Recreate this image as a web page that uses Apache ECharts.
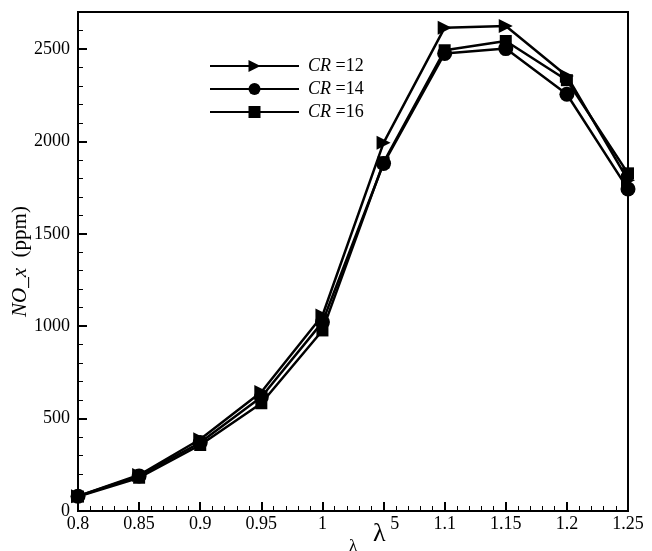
<!DOCTYPE html>
<html>
<head>
<meta charset="utf-8">
<script src="https://cdn.jsdelivr.net/npm/echarts@6/dist/echarts.min.js"></script>
<style>
  html, body { margin: 0; padding: 0; background: #fff; }
  #chart { width: 652px; height: 551px; }
</style>
</head>
<body>
<div id="chart"></div>
<script>
// lambda values on the x axis
const lambdaValues = [0.8, 0.85, 0.9, 0.95, 1.0, 1.05, 1.1, 1.15, 1.2, 1.25];
// NOx (ppm) per compression ratio
const nox12 = [80, 195, 388, 644, 1058, 1992, 2615, 2624, 2354, 1790];
const nox14 = [80, 190, 370, 617, 1022, 1880, 2476, 2502, 2255, 1742];
const nox16 = [78, 180, 357, 583, 977, 1886, 2493, 2543, 2331, 1827];
const seriesNames = ['CR =12', 'CR =14', 'CR =16'];

const font = 'Liberation Serif';
const triRight = 'path://M0,0 L10,5 L0,10 Z';

function pairs(ys) {
    return lambdaValues.map((x, i) => [x, ys[i]]);
}

function lineSeries(name, ys, symbol, size) {
    return {
        name: name,
        type: 'line',
        xAxisIndex: 0,
        yAxisIndex: 0,
        data: pairs(ys),
        symbol: symbol,
        symbolSize: size,
        showAllSymbol: true,
        lineStyle: { color: '#000', width: 2.5 },
        itemStyle: { color: '#000' },
        emphasis: { disabled: true },
        animation: false
    };
}

let option = {
    backgroundColor: '#fff',
    animation: false,
    grid: {
        left: 78, right: 24, top: 12, bottom: 40,
        show: true, borderColor: '#000', borderWidth: 2,
        containLabel: false,
        outerBoundsMode: 'none'
    },
    legend: {
        orient: 'vertical',
        left: 204,
        top: 52,
        itemWidth: 89,
        itemHeight: 15,
        itemGap: 5,
        data: seriesNames,
        formatter: name => '{i|CR} ' + name.slice(3),
        textStyle: {
            fontFamily: font, fontSize: 18, color: '#000',
            padding: [0, 0, 0, 4],
            rich: { i: { fontFamily: font, fontSize: 18, fontStyle: 'italic', color: '#000' } }
        }
    },
    xAxis: [
        {
            type: 'value', position: 'bottom',
            min: 0.8, max: 1.25, interval: 0.05,
            name: 'λ', nameLocation: 'middle', nameGap: 27,
            nameTextStyle: { fontFamily: font, fontSize: 17, color: '#000' },
            axisLine: { lineStyle: { color: '#000', width: 2 } },
            axisTick: { inside: true, length: 9, lineStyle: { color: '#000', width: 2 } },
            axisLabel: {
                fontFamily: font, fontSize: 18, color: '#000', margin: 4,
                formatter: v => String(+v.toFixed(2))
            },
            splitLine: { show: false }
        },
        {
            type: 'value', position: 'bottom',
            min: 0.8, max: 1.25, interval: 0.01,
            axisLine: { show: false },
            axisTick: { inside: true, length: 5, lineStyle: { color: '#000', width: 1 } },
            axisLabel: { show: false },
            splitLine: { show: false }
        }
    ],
    yAxis: [
        {
            type: 'value', position: 'left',
            min: 0, max: 2700, interval: 500,
            name: '{i|NO_x}  (ppm)', nameLocation: 'middle', nameGap: 47,
            nameMoveOverlap: false,
            nameTextStyle: {
                fontFamily: font, fontSize: 21, color: '#000',
                rich: { i: { fontFamily: font, fontSize: 21, fontStyle: 'italic', color: '#000' } }
            },
            axisLine: { lineStyle: { color: '#000', width: 2 } },
            axisTick: { inside: true, length: 9, lineStyle: { color: '#000', width: 2 } },
            axisLabel: {
                fontFamily: font, fontSize: 18, color: '#000', margin: 8, showMaxLabel: false,
                formatter: v => String(v)
            },
            splitLine: { show: false }
        },
        {
            type: 'value', position: 'left',
            min: 0, max: 2700, interval: 100,
            axisLine: { show: false },
            axisTick: { inside: true, length: 5, lineStyle: { color: '#000', width: 1 } },
            axisLabel: { show: false },
            splitLine: { show: false }
        }
    ],
    graphic: [
        // white patch and stray lambda glyph over the 1.05 label, as in the source figure
        { type: 'rect', left: 360, top: 512, shape: { width: 30, height: 24 }, style: { fill: '#fff' }, z: 100 },
        { type: 'text', left: 373, top: 521, style: { text: 'λ', font: '26px "Liberation Serif"', fill: '#000' }, z: 101 }
    ],
    series: [
        lineSeries(seriesNames[0], nox12, triRight, 14),
        lineSeries(seriesNames[1], nox14, 'circle', 15),
        lineSeries(seriesNames[2], nox16, 'rect', 12)
    ]
};

var myChart = echarts.init(document.getElementById('chart'));
myChart.setOption(option, true);
</script>
</body>
</html>
